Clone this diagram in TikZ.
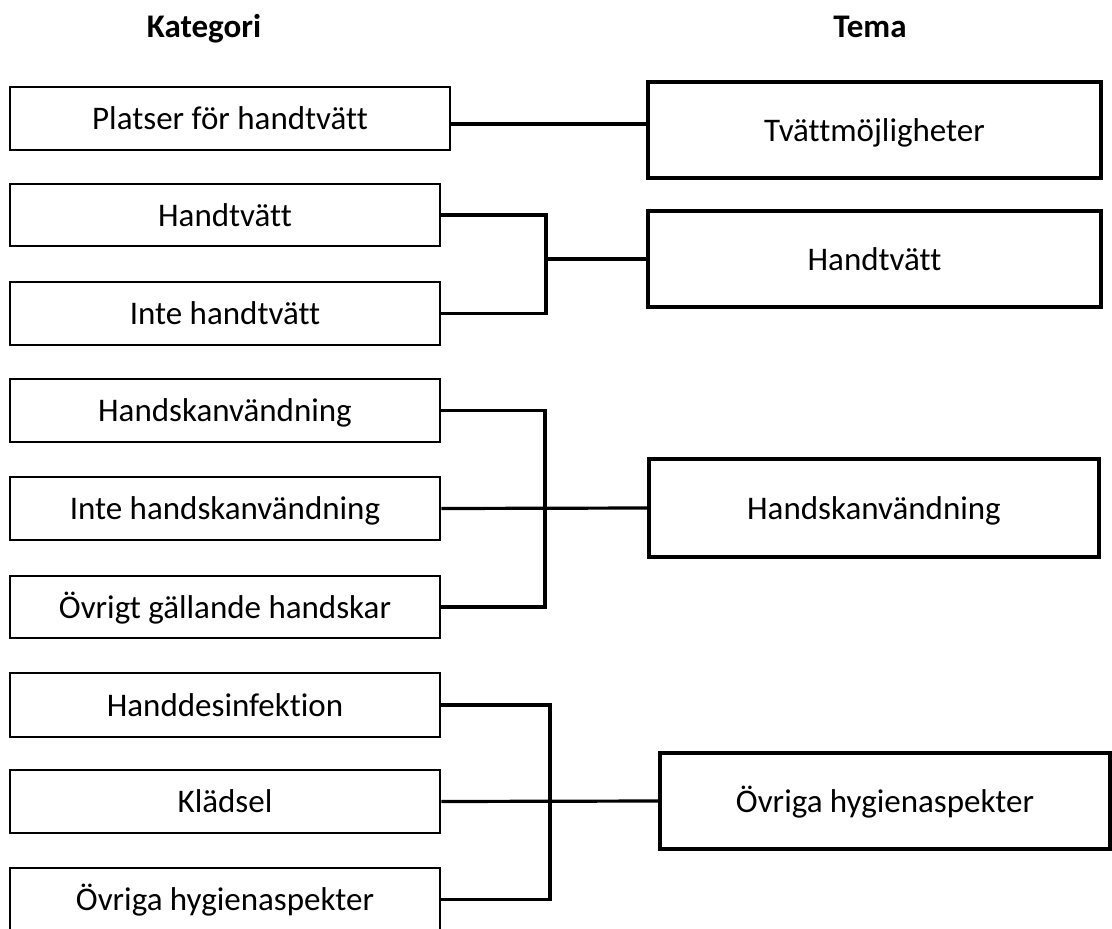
\documentclass[tikz,border=0pt]{standalone}
\usepackage{fontspec}
\setmainfont{Carlito}[Ligatures=NoCommon]
\begin{document}
\begin{tikzpicture}[x=1pt,y=-1pt,
  cat/.style={draw=black,line width=2.5pt,fill=white,inner sep=0pt,minimum width=430pt,minimum height=63pt,text height=25pt,text depth=3pt,font=\fontsize{33}{38}\selectfont},
  tema/.style={draw=black,line width=3.2pt,fill=white,inner sep=0pt,minimum width=453pt,minimum height=96pt,text height=25pt,text depth=3pt,font=\fontsize{33}{38}\selectfont},
  head/.style={anchor=base,font=\fontsize{33}{38}\selectfont\bfseries},
  conn/.style={line width=3.2pt}]
\useasboundingbox (0,0) rectangle (1112,929);
\clip (0,0) rectangle (1112,929);
\fill[white] (0,0) rectangle (1112,929);
% headers
\node[head] (hk) at (204,37) {Kategori};
\node[head] (ht) at (870,37) {Tema};
% category boxes
\node[cat,minimum width=440pt] (platser) at (230,118.5) {Platser för handtvätt};
\node[cat,minimum height=62pt] (hand) at (225,215) {Handtvätt};
\node[cat] (inte) at (225,313.5) {Inte handtvätt};
\node[cat] (hs1) at (225,410.5) {Handskanvändning};
\node[cat] (hs2) at (225,508.5) {Inte handskanvändning};
\node[cat,minimum height=62pt] (hs3) at (225,607) {Övrigt gällande handskar};
\node[cat,minimum height=64pt] (hd) at (225,705) {Handdesinfektion};
\node[cat] (kl) at (225,801.5) {Klädsel};
\node[cat] (ov) at (225,899.5) {Övriga hygienaspekter};
% theme boxes
\node[tema] (t1) at (874.5,130) {Tvättmöjligheter};
\node[tema] (t2) at (874.5,259) {Handtvätt};
\node[tema,minimum width=450pt,minimum height=98pt] (t3) at (874,508) {Handskanvändning};
\node[tema,minimum width=450pt] (t4) at (885,801) {Övriga hygienaspekter};
% bracket coordinates
\coordinate (b1) at (546,0);
\coordinate (b2) at (545,0);
\coordinate (b3) at (550,0);
% connectors
\draw[conn] ([yshift=-5.5pt]platser.east) -- ([yshift=-5.5pt]platser.east -| t1.west);
\draw[conn] (hand.east) -- (hand.east -| b1) -- (inte.east -| b1) -- (inte.east);
\draw[conn] (b1 |- t2.west) -- (t2.west);
\draw[conn] (hs1.east) -- (hs1.east -| b2) -- (hs3.east -| b2) -- (hs3.east);
\draw[conn] (hs2.east) -- (t3.west);
\draw[conn] (hd.east) -- (hd.east -| b3) -- (ov.east -| b3) -- (ov.east);
\draw[conn] (kl.east) -- (t4.west);
\end{tikzpicture}
\end{document}
